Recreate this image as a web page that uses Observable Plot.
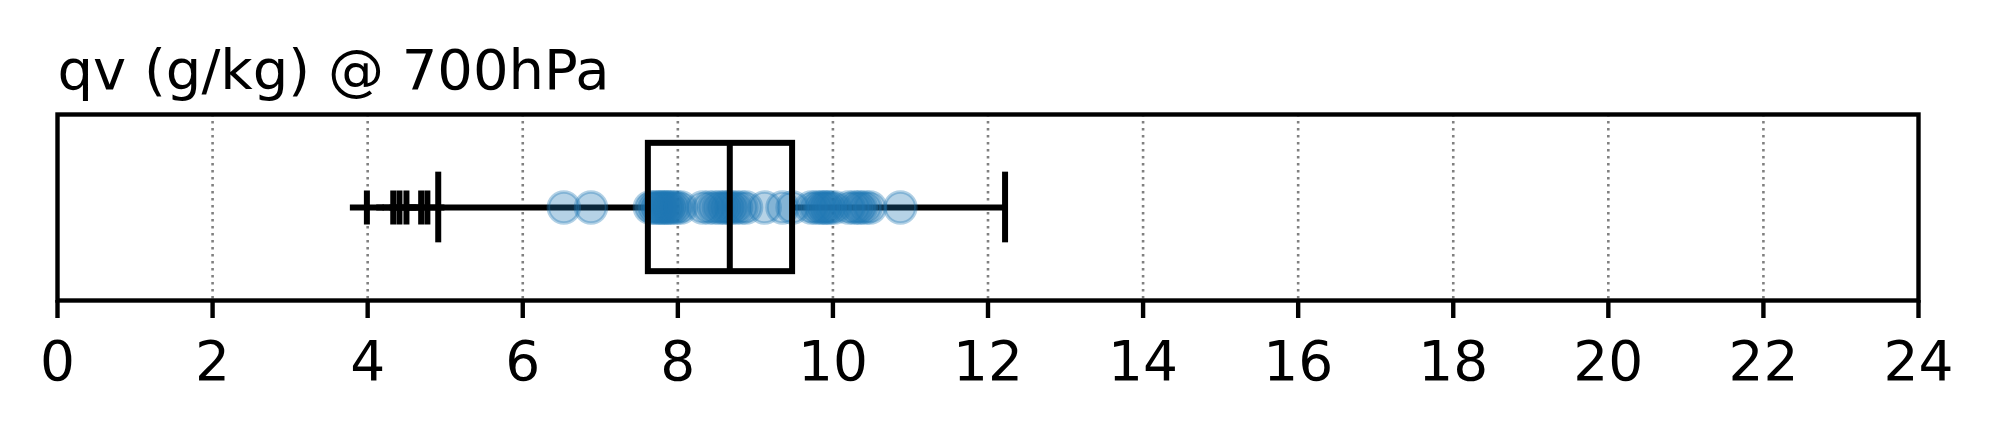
<!DOCTYPE html>
<html>
<head>
<meta charset="utf-8">
<script src="https://cdn.jsdelivr.net/npm/d3@7"></script>
<script src="https://cdn.jsdelivr.net/npm/@observablehq/plot@0.6"></script>
<style>
  html, body { margin: 0; padding: 0; background: #fff; }
  #chart svg { display: block; }
</style>
</head>
<body>
<div id="chart"></div>
<script>
// ---- data ----
const title = "qv (g/kg) @ 700hPa";
const xTicks = [0, 2, 4, 6, 8, 10, 12, 14, 16, 18, 20, 22, 24];
const quartiles = [7.62, 8.67, 9.48];        // Q1, median, Q3
const whiskers = [4.91, 12.22];               // low / high whisker ends
const fliers = [3.99, 4.33, 4.41, 4.50, 4.69, 4.77];
const samples = [
  6.53, 6.88,
  7.64, 7.68, 7.72, 7.75, 7.78, 7.80, 7.83, 7.86, 7.88, 7.91, 7.95, 7.99, 8.04,
  8.32, 8.40, 8.47, 8.53, 8.58, 8.62, 8.66, 8.70, 8.75, 8.82, 8.88,
  9.12, 9.35, 9.48,
  9.72, 9.78, 9.83, 9.87, 9.90, 9.93, 9.97, 10.02, 10.20, 10.27, 10.32, 10.36, 10.42, 10.48,
  10.87
];

// ---- layout / style ----
const pos = 1;          // category position on the (hidden) y scale
const boxHalf = 0.345;  // half box height in y units
const capHalf = 0.19;   // half whisker-cap height in y units
const blue = "#1f77b4";
const lw = 6;

const [q1, med, q3] = quartiles;

const chart = Plot.plot({
  width: 1993,
  height: 433,
  marginTop: 114,
  marginBottom: 133,
  marginLeft: 57,
  marginRight: 75,
  style: { fontFamily: "DejaVu Sans", background: "#fff", color: "#000" },
  x: { domain: [0, 24] },
  y: { domain: [0.5, 1.5], axis: null },
  marks: [
    Plot.gridX(xTicks.filter(d => d > 0 && d < 24), {
      stroke: "#808080", strokeOpacity: 1, strokeWidth: 2.6, strokeDasharray: "2.6,4.4"
    }),
    // whisker lines
    Plot.ruleY([pos], { x1: whiskers[0], x2: q1, stroke: "#000", strokeWidth: lw }),
    Plot.ruleY([pos], { x1: q3, x2: whiskers[1], stroke: "#000", strokeWidth: lw }),
    // fliers
    Plot.dot(fliers, { x: d => d, y: pos, symbol: "plus", r: 11, stroke: "#000", strokeWidth: lw }),
    // sample points
    Plot.dot(samples, {
      x: d => d, y: pos, r: 15.5, fill: blue, fillOpacity: 0.33,
      stroke: blue, strokeOpacity: 0.35, strokeWidth: 3.5
    }),
    // box
    Plot.rect([pos], {
      x1: q1, x2: q3, y1: d => d - boxHalf, y2: d => d + boxHalf,
      fill: "none", stroke: "#000", strokeWidth: lw
    }),
    // median
    Plot.ruleX([med], { y1: pos - boxHalf, y2: pos + boxHalf, stroke: "#000", strokeWidth: lw }),
    // caps
    Plot.ruleX(whiskers, { y1: pos - capHalf, y2: pos + capHalf, stroke: "#000", strokeWidth: lw }),
    Plot.frame({ stroke: "#000", strokeWidth: 4.4 }),
    Plot.axisX(xTicks, {
      anchor: "bottom", tickSize: 18, tickPadding: 22, fontSize: 55,
      strokeWidth: 4.4, label: null, tickFormat: d => String(d)
    }),
    Plot.text([title], {
      frameAnchor: "top-left", textAnchor: "start", lineAnchor: "bottom",
      dy: -26, fontSize: 56, fill: "#000"
    })
  ]
});
document.getElementById("chart").appendChild(chart);
</script>
</body>
</html>
